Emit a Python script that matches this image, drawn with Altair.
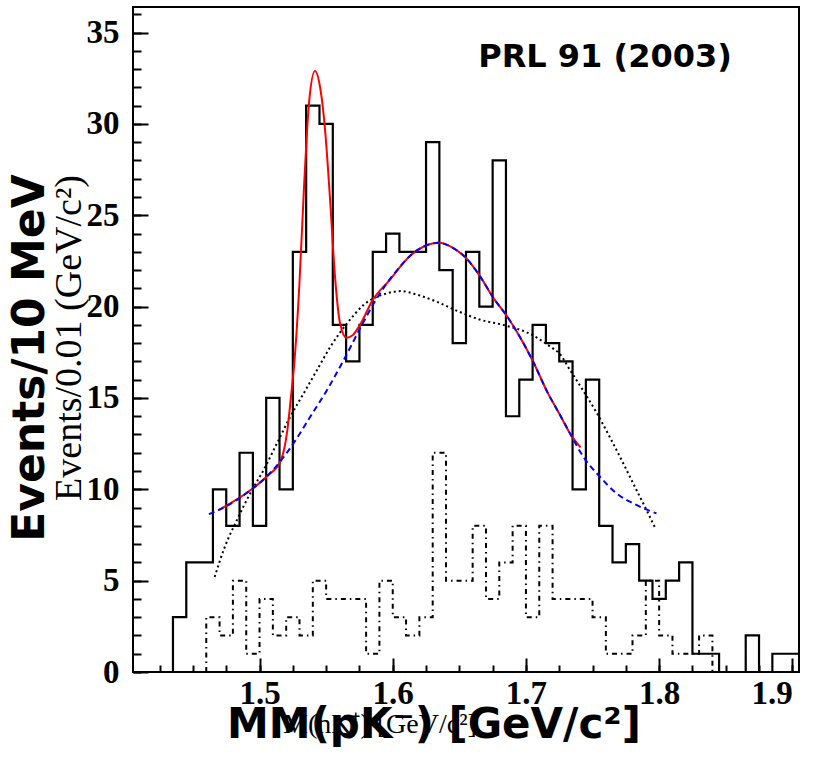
import altair as alt
import pandas as pd
import numpy as np

# ---------------- data ----------------
# Solid histogram (bin width 0.01 GeV): bin centres and counts
solid_centers = [1.41, 1.42, 1.43, 1.44, 1.45, 1.46, 1.47, 1.48, 1.49, 1.50,
                 1.51, 1.52, 1.53, 1.54, 1.55, 1.56, 1.57, 1.58, 1.59, 1.60,
                 1.61, 1.62, 1.63, 1.64, 1.65, 1.66, 1.67, 1.68, 1.69, 1.70,
                 1.71, 1.72, 1.73, 1.74, 1.75, 1.76, 1.77, 1.78, 1.79, 1.80,
                 1.81, 1.82, 1.83, 1.84, 1.85, 1.86, 1.87, 1.88, 1.89, 1.90]
solid_counts = [0, 0, 0, 3, 6, 6, 10, 8, 12, 8,
                15, 10, 23, 31, 30, 19, 17, 19, 23, 24,
                23, 23, 29, 22, 18, 23, 20, 28, 14, 16,
                19, 18, 17, 10, 16, 8, 6, 7, 5, 4,
                5, 6, 1, 1, 0, 0, 2, 0, 1, 1]

# Dash-dotted histogram: bin lower edges and counts
dd_lo = [1.46, 1.47, 1.48, 1.49, 1.50, 1.51, 1.52, 1.53, 1.54, 1.55,
         1.56, 1.57, 1.58, 1.59, 1.60, 1.61, 1.62, 1.63, 1.64, 1.65,
         1.66, 1.67, 1.68, 1.69, 1.70, 1.71, 1.72, 1.73, 1.74, 1.75,
         1.76, 1.77, 1.78, 1.79, 1.80, 1.81, 1.82, 1.83]
dd_counts = [3, 2, 5, 1, 4, 2, 3, 2, 5, 4,
             4, 4, 1, 5, 3, 2, 3, 12, 5, 5,
             8, 4, 6, 8, 3, 8, 4, 4, 4, 3,
             1, 1, 2, 5, 2, 1, 1, 2]

# Full fit (red)
red_x = [1.4695, 1.4933, 1.5058, 1.5158, 1.5208, 1.5235, 1.5262, 1.5299, 1.5335, 1.5372,
         1.5416, 1.5457, 1.5494, 1.5530, 1.5567, 1.5604, 1.5652, 1.5701, 1.5762, 1.5848,
         1.5970, 1.6133, 1.6233, 1.6345, 1.6458, 1.6558, 1.6658, 1.6758, 1.6858, 1.6958,
         1.7058, 1.7158, 1.7255, 1.7330, 1.7410]
red_y = [8.87, 9.96, 10.73, 11.55, 13.2, 15.0, 17.0, 21.2, 26.7, 31.2,
         32.9, 31.9, 29.5, 25.8, 21.6, 19.1, 18.3, 18.45, 19.1, 20.35,
         21.4, 22.8, 23.29, 23.49, 23.19, 22.6, 21.63, 20.45, 19.47, 18.3,
         16.93, 15.36, 14.08, 13.07, 12.3]

# Background (blue dashed)
blue_x = [1.4620, 1.4695, 1.4933, 1.5058, 1.5158, 1.5258, 1.5383, 1.5508, 1.5633, 1.5758,
          1.5858, 1.5933, 1.6033, 1.6133, 1.6233, 1.6345, 1.6458, 1.6558, 1.6658, 1.6758,
          1.6858, 1.6958, 1.7058, 1.7158, 1.7255, 1.7330, 1.7430, 1.7555, 1.7680, 1.7805,
          1.7980]
blue_y = [8.64, 8.87, 9.96, 10.73, 11.55, 12.55, 14.0, 15.45, 17.09, 18.85,
          20.18, 21.04, 22.0, 22.8, 23.29, 23.49, 23.19, 22.6, 21.63, 20.45,
          19.47, 18.3, 16.93, 15.36, 14.08, 13.07, 11.79, 10.69, 9.78, 9.23,
          8.68]

# Dotted curve
dot_x = [1.4663, 1.4733, 1.4833, 1.4933, 1.5033, 1.5133, 1.5233, 1.5333, 1.5433, 1.5533,
         1.5658, 1.5783, 1.5958, 1.6058, 1.6183, 1.6333, 1.6483, 1.6658, 1.6833, 1.7033,
         1.7180, 1.7255, 1.7330, 1.7430, 1.7530, 1.7630, 1.7730, 1.7830, 1.7905, 1.7975]
dot_y = [5.2, 6.73, 8.36, 9.82, 11.09, 12.55, 14.0, 15.27, 16.55, 17.82,
         19.09, 20.1, 20.73, 20.85, 20.65, 20.26, 19.77, 19.28, 18.99, 18.5,
         17.82, 17.4, 16.54, 15.4, 14.2, 12.85, 11.43, 9.96, 8.87, 7.81]

x_major = [1.5, 1.6, 1.7, 1.8, 1.9]
y_major = [0, 5, 10, 15, 20, 25, 30, 35]
x_minor = [round(v, 3) for v in np.arange(1.425, 1.9001, 0.025)]
y_minor = list(range(0, 37))

X_DOMAIN = [1.405, 1.905]
Y_DOMAIN = [0, 36.4]
W, H = 666, 665

# ---------------- tables built from the arrays ----------------
solid_edges = [round(c - 0.005, 3) for c in solid_centers] + [round(solid_centers[-1] + 0.005, 3)]
solid_df = pd.DataFrame({"x": solid_edges,
                         "y": solid_counts + [solid_counts[-1]],
                         "i": list(range(len(solid_edges)))})
dd_x = [dd_lo[0]] + dd_lo + [round(dd_lo[-1] + 0.01, 3)]
dd_y = [0] + dd_counts + [0]
dd_df = pd.DataFrame({"x": dd_x, "y": dd_y, "i": list(range(len(dd_x)))})
red_df = pd.DataFrame({"x": red_x, "y": red_y})
blue_df = pd.DataFrame({"x": blue_x, "y": blue_y})
dot_df = pd.DataFrame({"x": dot_x, "y": dot_y})

xs = alt.Scale(domain=X_DOMAIN, nice=False, zero=False)
ys = alt.Scale(domain=Y_DOMAIN, nice=False, zero=False)

LABEL_FONT = "Liberation Serif"

ax_x_main = alt.Axis(values=x_major, format=".1f", ticks=False, tickSize=0, domain=False,
                     grid=False, labelFont=LABEL_FONT, labelFontWeight="bold",
                     labelFontSize=33, labelColor="black", labelPadding=5,
                     labelOverlap=False, labelFlush=12, title=None)
ax_y_main = alt.Axis(values=y_major, format="d", ticks=False, tickSize=0, domain=False,
                     grid=False, labelFont=LABEL_FONT, labelFontWeight="bold",
                     labelFontSize=33, labelColor="black", labelPadding=14,
                     labelOverlap=False, title=None)
ax_x_major = alt.Axis(orient="top", offset=-H, values=x_major, labels=False, domain=False,
                      grid=False, ticks=True, tickSize=14, tickWidth=2, tickColor="black",
                      title=None)
ax_y_major = alt.Axis(orient="right", offset=-W, values=y_major, labels=False, domain=False,
                      grid=False, ticks=True, tickSize=15, tickWidth=2, tickColor="black",
                      title=None)
ax_x_minor = alt.Axis(orient="top", offset=-H, values=x_minor, labels=False, domain=False,
                      grid=False, ticks=True, tickSize=7, tickWidth=2, tickColor="black",
                      title=None)
ax_y_minor = alt.Axis(orient="right", offset=-W, values=y_minor, labels=False, domain=False,
                      grid=False, ticks=True, tickSize=8, tickWidth=2, tickColor="black",
                      title=None)

solid = alt.Chart(solid_df).mark_line(interpolate="step-after", color="black",
                                      strokeWidth=2.2).encode(
    x=alt.X("x:Q", scale=xs, axis=ax_x_main),
    y=alt.Y("y:Q", scale=ys, axis=ax_y_main),
    order="i:Q")

dashdot = alt.Chart(dd_df).mark_line(interpolate="step-after", color="black",
                                     strokeWidth=2, strokeDash=[5, 4, 1.5, 4]).encode(
    x=alt.X("x:Q", scale=xs, axis=ax_x_major),
    y=alt.Y("y:Q", scale=ys, axis=ax_y_major),
    order="i:Q")

dotted = alt.Chart(dot_df).mark_line(interpolate="monotone", color="black",
                                     strokeWidth=2, strokeDash=[2, 3]).encode(
    x=alt.X("x:Q", scale=xs, axis=ax_x_minor),
    y=alt.Y("y:Q", scale=ys, axis=ax_y_minor))

red = alt.Chart(red_df).mark_line(interpolate="monotone", color="#ff0000",
                                  strokeWidth=2).encode(
    x=alt.X("x:Q", scale=xs, axis=None),
    y=alt.Y("y:Q", scale=ys, axis=None))

blue = alt.Chart(blue_df).mark_line(interpolate="monotone", color="#0000ff",
                                    strokeWidth=2, strokeDash=[6, 4]).encode(
    x=alt.X("x:Q", scale=xs, axis=None),
    y=alt.Y("y:Q", scale=ys, axis=None))


def label(text, x, y, font, size, weight="normal", angle=0, align="center",
          baseline="alphabetic"):
    df = pd.DataFrame({"t": [text]})
    kw = dict(font=font, fontSize=size, fontWeight=weight, align=align,
              baseline=baseline, color="black")
    if angle:
        kw["angle"] = angle
    return alt.Chart(df).mark_text(**kw).encode(
        text="t:N", x=alt.value(x), y=alt.value(y))


prl = label("PRL 91 (2003)", 472, 60, "DejaVu Sans", 32, "bold")
ytitle_small = label("Events/0.01 (GeV/c²)", -52, 331, LABEL_FONT, 38, angle=270)
ytitle_big = label("Events/10 MeV", -89, 351, "DejaVu Sans", 44, "bold", angle=270)
xtitle_small = label("M(nK⁺) [GeV/c²]", 150, 726, LABEL_FONT, 28, align="left")
xtitle_big = label("MM(pK⁻) [GeV/c²]", 301, 731, "DejaVu Sans", 42, "bold")

chart = alt.layer(
    solid, dashdot, dotted, red, blue,
    prl, ytitle_small, xtitle_small, ytitle_big, xtitle_big
).resolve_axis(x="independent", y="independent").properties(
    width=W, height=H,
    autosize=alt.AutoSizeParams(type="none"),
    padding={"left": 133, "top": 7, "right": 15, "bottom": 87},
    background="white",
).configure_view(stroke="black", strokeWidth=2)

chart.save("out.html", embed_options={"renderer": "svg", "actions": False})
